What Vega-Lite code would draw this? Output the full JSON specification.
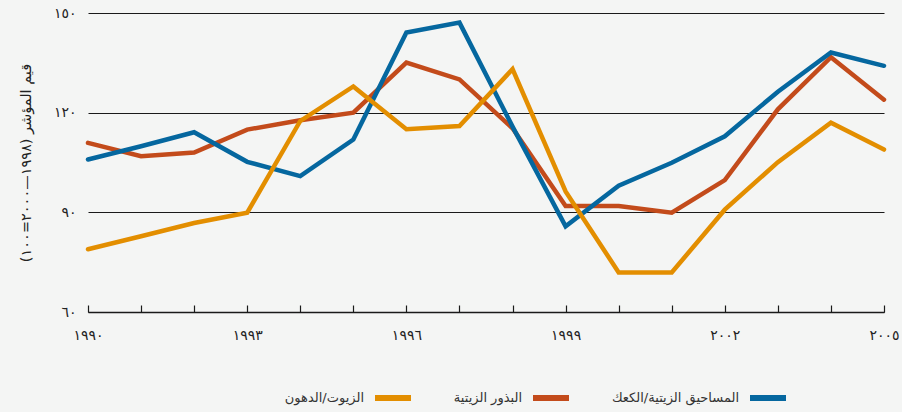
{
  "$schema": "https://vega.github.io/schema/vega-lite/v6.json",
  "autosize": {"type": "none"},
  "padding": {"left": 88, "top": 13, "right": 18, "bottom": 100},
  "width": 796,
  "height": 299,
  "background": "#f4f5f4",
  "config": {
    "view": {"stroke": null},
    "font": "DejaVu Sans",
    "axis": {"labelFont": "DejaVu Sans", "titleFont": "DejaVu Sans"},
    "legend": {"labelFont": "DejaVu Sans"}
  },
  "data": {
    "values": [
      {"year": 1990, "series": "البذور الزيتية", "value": 110.9},
      {"year": 1991, "series": "البذور الزيتية", "value": 106.9},
      {"year": 1992, "series": "البذور الزيتية", "value": 108.0},
      {"year": 1993, "series": "البذور الزيتية", "value": 114.9},
      {"year": 1994, "series": "البذور الزيتية", "value": 117.7},
      {"year": 1995, "series": "البذور الزيتية", "value": 120.0},
      {"year": 1996, "series": "البذور الزيتية", "value": 135.1},
      {"year": 1997, "series": "البذور الزيتية", "value": 130.0},
      {"year": 1998, "series": "البذور الزيتية", "value": 115.3},
      {"year": 1999, "series": "البذور الزيتية", "value": 91.9},
      {"year": 2000, "series": "البذور الزيتية", "value": 91.9},
      {"year": 2001, "series": "البذور الزيتية", "value": 89.9},
      {"year": 2002, "series": "البذور الزيتية", "value": 99.7},
      {"year": 2003, "series": "البذور الزيتية", "value": 121.0},
      {"year": 2004, "series": "البذور الزيتية", "value": 136.7},
      {"year": 2005, "series": "البذور الزيتية", "value": 123.9},
      {"year": 1990, "series": "المساحيق الزيتية/الكعك", "value": 105.9},
      {"year": 1991, "series": "المساحيق الزيتية/الكعك", "value": 109.9},
      {"year": 1992, "series": "المساحيق الزيتية/الكعك", "value": 114.1},
      {"year": 1993, "series": "المساحيق الزيتية/الكعك", "value": 105.2},
      {"year": 1994, "series": "المساحيق الزيتية/الكعك", "value": 100.9},
      {"year": 1995, "series": "المساحيق الزيتية/الكعك", "value": 111.9},
      {"year": 1996, "series": "المساحيق الزيتية/الكعك", "value": 144.1},
      {"year": 1997, "series": "المساحيق الزيتية/الكعك", "value": 147.1},
      {"year": 1998, "series": "المساحيق الزيتية/الكعك", "value": 115.8},
      {"year": 1999, "series": "المساحيق الزيتية/الكعك", "value": 85.8},
      {"year": 2000, "series": "المساحيق الزيتية/الكعك", "value": 98.0},
      {"year": 2001, "series": "المساحيق الزيتية/الكعك", "value": 104.9},
      {"year": 2002, "series": "المساحيق الزيتية/الكعك", "value": 112.9},
      {"year": 2003, "series": "المساحيق الزيتية/الكعك", "value": 126.3},
      {"year": 2004, "series": "المساحيق الزيتية/الكعك", "value": 138.1},
      {"year": 2005, "series": "المساحيق الزيتية/الكعك", "value": 134.1},
      {"year": 1990, "series": "الزيوت/الدهون", "value": 78.9},
      {"year": 1991, "series": "الزيوت/الدهون", "value": 82.8},
      {"year": 1992, "series": "الزيوت/الدهون", "value": 86.8},
      {"year": 1993, "series": "الزيوت/الدهون", "value": 89.9},
      {"year": 1994, "series": "الزيوت/الدهون", "value": 117.5},
      {"year": 1995, "series": "الزيوت/الدهون", "value": 127.9},
      {"year": 1996, "series": "الزيوت/الدهون", "value": 115.0},
      {"year": 1997, "series": "الزيوت/الدهون", "value": 116.0},
      {"year": 1998, "series": "الزيوت/الدهون", "value": 133.1},
      {"year": 1999, "series": "الزيوت/الدهون", "value": 96.3},
      {"year": 2000, "series": "الزيوت/الدهون", "value": 71.9},
      {"year": 2001, "series": "الزيوت/الدهون", "value": 71.9},
      {"year": 2002, "series": "الزيوت/الدهون", "value": 90.8},
      {"year": 2003, "series": "الزيوت/الدهون", "value": 105.1},
      {"year": 2004, "series": "الزيوت/الدهون", "value": 117.0},
      {"year": 2005, "series": "الزيوت/الدهون", "value": 108.9}
    ]
  },
  "mark": {"type": "line", "strokeWidth": 4.5, "strokeCap": "round"},
  "encoding": {
    "x": {
      "field": "year",
      "type": "quantitative",
      "scale": {"domain": [1990, 2005], "nice": false, "zero": false},
      "axis": {
        "title": null,
        "values": [1990, 1991, 1992, 1993, 1994, 1995, 1996, 1997, 1998, 1999, 2000, 2001, 2002, 2003, 2004, 2005],
        "labelExpr": "datum.value==1990?'١٩٩٠':datum.value==1993?'١٩٩٣':datum.value==1996?'١٩٩٦':datum.value==1999?'١٩٩٩':datum.value==2002?'٢٠٠٢':datum.value==2005?'٢٠٠٥':''",
        "grid": false,
        "domainColor": "#1a1a1a",
        "domainWidth": 1.5,
        "tickColor": "#1a1a1a",
        "tickWidth": 1.2,
        "tickSize": -7,
        "labelPadding": 23,
        "labelFontSize": 14,
        "labelColor": "#222222",
        "labelFlush": false,
        "labelOverlap": false
      }
    },
    "y": {
      "field": "value",
      "type": "quantitative",
      "scale": {"domain": [60, 150], "nice": false, "zero": false},
      "axis": {
        "title": "‏قيم المؤشر (١٩٩٨—٢٠٠٠=١٠٠)‏",
        "titleFontSize": 14.5,
        "titleFontWeight": "normal",
        "titleColor": "#222222",
        "titlePadding": 20,
        "values": [60, 90, 120, 150],
        "labelExpr": "datum.value==60?'٦٠':datum.value==90?'٩٠':datum.value==120?'١٢٠':'١٥٠'",
        "domain": false,
        "ticks": false,
        "grid": true,
        "gridColor": "#1a1a1a",
        "gridWidth": 1.2,
        "labelPadding": 12,
        "labelFontSize": 14,
        "labelColor": "#222222"
      }
    },
    "color": {
      "field": "series",
      "type": "nominal",
      "scale": {
        "domain": ["الزيوت/الدهون", "البذور الزيتية", "المساحيق الزيتية/الكعك"],
        "range": ["#e38e00", "#c34b1b", "#05679f"]
      },
      "legend": {
        "title": null,
        "orient": "none",
        "legendX": 284,
        "legendY": 364,
        "direction": "horizontal",
        "symbolType": "stroke",
        "symbolSize": 1296,
        "symbolStrokeWidth": 6,
        "labelAlign": "right",
        "labelOffset": -50,
        "labelFontSize": 13,
        "labelColor": "#333333",
        "columnPadding": 30,
        "labelLimit": 300
      }
    }
  }
}
